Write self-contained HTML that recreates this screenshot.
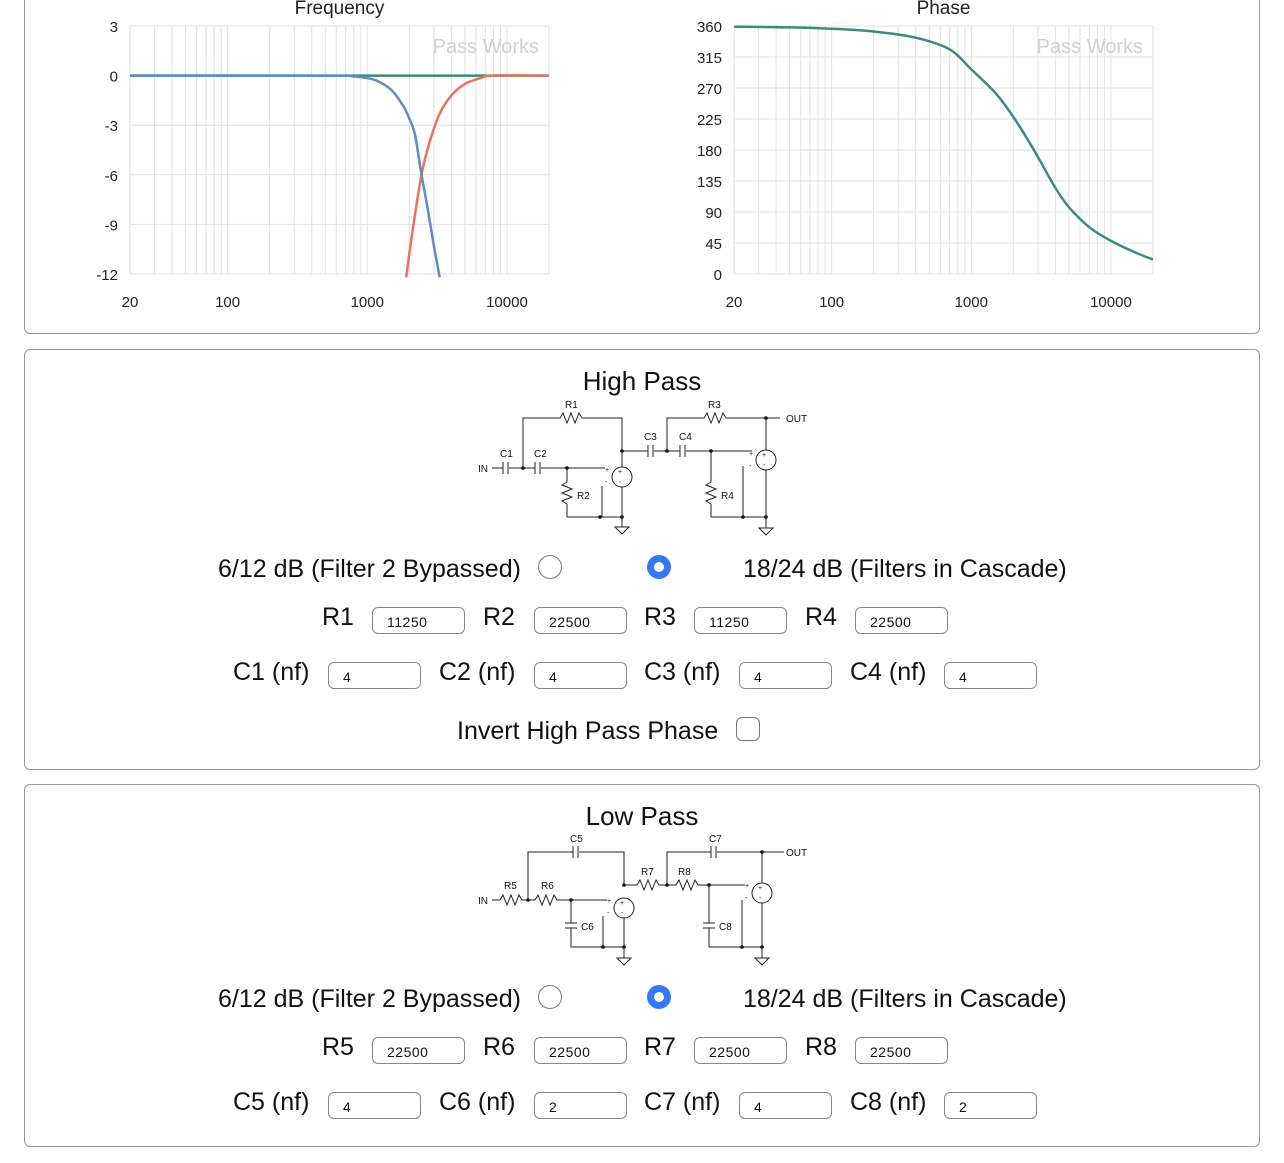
<!DOCTYPE html>
<html><head><meta charset="utf-8">
<style>
body{margin:0;width:1284px;height:1163px;background:#fff;position:relative;overflow:hidden;font-family:"Liberation Sans",sans-serif;color:#111}
.panel{position:absolute;left:24px;width:1236px;border:1px solid #9a9a9a;border-radius:6px;box-sizing:border-box}
.t{position:absolute;white-space:nowrap;font-size:25px;line-height:1}
.inp{position:absolute;width:93px;height:27px;border:1px solid #888;border-radius:6px;box-sizing:border-box;font-size:14px;padding:7px 0 0 14px;line-height:1;letter-spacing:0.5px}
.radio{position:absolute;width:24px;height:24px;border-radius:50%;box-sizing:border-box}
.off{border:1.5px solid #777;background:#fff}
.on{background:#3478f6}
.on::after{content:"";position:absolute;left:7px;top:7px;width:10px;height:10px;border-radius:50%;background:#fff}
h2{position:absolute;margin:0;font-weight:normal;font-size:26px;left:0;width:1284px;text-align:center}
</style></head><body>

<div class="panel" style="top:-10px;height:344px"></div>
<svg id="charts" width="1284" height="330" style="position:absolute;left:0;top:0" font-family="Liberation Sans, sans-serif"></svg>

<div class="panel" style="top:349px;height:421px"></div>
<h2 style="top:366px">High Pass</h2>
<svg width="1284" height="1163" style="position:absolute;left:0;top:0" fill="none" stroke="#222" stroke-width="1" font-family="Liberation Sans Narrow, Liberation Sans, sans-serif" font-size="10">
 <g>
 <text x="478" y="472" fill="#111" stroke="none">IN</text>
 <path d="M492 468H503M509 468H535M541 468H605"/>
 <path d="M503 462V474M508 462V474M535 462V474M540 462V474"/>
 <path d="M523 468V418H560l3-5 4 10 4-10 4 10 4-10 3 5H622V467"/>
 <path d="M622 451H648M654 451H680M686 451H752"/>
 <path d="M648 445V457M653 445V457M680 445V457M685 445V457"/>
 <path d="M667 451V418H704l3-5 4 10 4-10 4 10 4-10 3 5H766V450M766 418H780"/>
 <path d="M567 468V482l-5 3 10 4-10 4 10 4-10 4 5 3V517H622M602 486V517"/>
 <path d="M711 451V482l-5 3 10 4-10 4 10 4-10 4 5 3V517H766M743 466V517"/>
 <circle cx="622" cy="477" r="10"/><circle cx="766" cy="460" r="10"/>
 <path d="M622 487V527M615 527H629L622 534Z M766 470V528M759 528H773L766 535Z"/>
 <g fill="#111" stroke="none">
 <circle cx="523" cy="468" r="1.8"/><circle cx="567" cy="468" r="1.8"/><circle cx="622" cy="451" r="1.8"/><circle cx="667" cy="451" r="1.8"/><circle cx="711" cy="451" r="1.8"/><circle cx="766" cy="418" r="1.8"/><circle cx="600" cy="517" r="1.8"/><circle cx="622" cy="517" r="1.8"/><circle cx="743" cy="517" r="1.8"/><circle cx="766" cy="517" r="1.8"/>
 <text x="565" y="408">R1</text><text x="708" y="408">R3</text><text x="786" y="422">OUT</text>
 <text x="500" y="457">C1</text><text x="534" y="457">C2</text><text x="644" y="440">C3</text><text x="679" y="440">C4</text>
 <text x="577" y="499">R2</text><text x="721" y="499">R4</text>
 <text x="618" y="474" font-size="7">+</text><text x="619" y="484" font-size="7">-</text>
 <text x="762" y="457" font-size="7">+</text><text x="763" y="467" font-size="7">-</text>
 <text x="605" y="472" font-size="7">+</text><text x="605" y="484" font-size="7">-</text>
 <text x="749" y="456" font-size="7">+</text><text x="749" y="468" font-size="7">-</text>
 </g></g>
 <g>
 <text x="478" y="904" fill="#111" stroke="none">IN</text>
 <path d="M492 900H500l3-5 4 10 4-10 4 10 4-10 3 5H535l3-5 4 10 4-10 4 10 4-10 3 5H607"/>
 <path d="M528 900V852H573M579 852H624V885H637l3-5 4 10 4-10 4 10 4-10 3 5H676l3-5 4 10 4-10 4 10 4-10 3 5H745"/>
 <path d="M573 846V858M578 846V858"/>
 <path d="M667 885V852H711M717 852H762V883M762 852H784M711 846V858M716 846V858"/>
 <path d="M571 900V923M565 923H577M565 928H577M571 928V947H624M603 916V947"/>
 <path d="M709 885V923M703 923H715M703 928H715M709 928V947H762M742 900V947"/>
 <circle cx="624" cy="908" r="10"/><circle cx="762" cy="893" r="10"/>
 <path d="M624 918V958M617 958H631L624 965Z M762 903V958M755 958H769L762 965Z"/>
 <g fill="#111" stroke="none">
 <circle cx="528" cy="900" r="1.8"/><circle cx="571" cy="900" r="1.8"/><circle cx="624" cy="885" r="1.8"/><circle cx="667" cy="885" r="1.8"/><circle cx="709" cy="885" r="1.8"/><circle cx="762" cy="852" r="1.8"/><circle cx="603" cy="947" r="1.8"/><circle cx="624" cy="947" r="1.8"/><circle cx="742" cy="947" r="1.8"/><circle cx="762" cy="947" r="1.8"/>
 <text x="570" y="842">C5</text><text x="709" y="842">C7</text><text x="786" y="856">OUT</text>
 <text x="504" y="889">R5</text><text x="541" y="889">R6</text><text x="641" y="875">R7</text><text x="678" y="875">R8</text>
 <text x="581" y="930">C6</text><text x="719" y="930">C8</text>
 <text x="620" y="905" font-size="7">+</text><text x="621" y="915" font-size="7">-</text>
 <text x="758" y="890" font-size="7">+</text><text x="759" y="900" font-size="7">-</text>
 <text x="607" y="903" font-size="7">+</text><text x="607" y="915" font-size="7">-</text>
 <text x="745" y="888" font-size="7">+</text><text x="745" y="900" font-size="7">-</text>
 </g></g>
</svg>

<div class="t" style="left:218px;top:557px">6/12 dB (Filter 2 Bypassed)</div>
<div class="radio off" style="left:538px;top:555px"></div>
<div class="radio on" style="left:647px;top:555px"></div>
<div class="t" style="left:743px;top:557px">18/24 dB (Filters in Cascade)</div>

<div class="t" style="left:322px;top:605px">R1</div>
<div class="inp" style="left:372px;top:607px">11250</div>
<div class="t" style="left:483px;top:605px">R2</div>
<div class="inp" style="left:534px;top:607px">22500</div>
<div class="t" style="left:644px;top:605px">R3</div>
<div class="inp" style="left:694px;top:607px">11250</div>
<div class="t" style="left:805px;top:605px">R4</div>
<div class="inp" style="left:855px;top:607px">22500</div>

<div class="t" style="left:233px;top:660px">C1 (nf)</div>
<div class="inp" style="left:328px;top:662px">4</div>
<div class="t" style="left:439px;top:660px">C2 (nf)</div>
<div class="inp" style="left:534px;top:662px">4</div>
<div class="t" style="left:644px;top:660px">C3 (nf)</div>
<div class="inp" style="left:739px;top:662px">4</div>
<div class="t" style="left:850px;top:660px">C4 (nf)</div>
<div class="inp" style="left:944px;top:662px">4</div>

<div class="t" style="left:457px;top:719px">Invert High Pass Phase</div>
<div style="position:absolute;left:736px;top:717px;width:24px;height:24px;border:1.5px solid #777;border-radius:6px;box-sizing:border-box"></div>

<div class="panel" style="top:784px;height:363px"></div>
<h2 style="top:801px">Low Pass</h2>

<div class="t" style="left:218px;top:987px">6/12 dB (Filter 2 Bypassed)</div>
<div class="radio off" style="left:538px;top:985px"></div>
<div class="radio on" style="left:647px;top:985px"></div>
<div class="t" style="left:743px;top:987px">18/24 dB (Filters in Cascade)</div>

<div class="t" style="left:322px;top:1035px">R5</div>
<div class="inp" style="left:372px;top:1037px">22500</div>
<div class="t" style="left:483px;top:1035px">R6</div>
<div class="inp" style="left:534px;top:1037px">22500</div>
<div class="t" style="left:644px;top:1035px">R7</div>
<div class="inp" style="left:694px;top:1037px">22500</div>
<div class="t" style="left:805px;top:1035px">R8</div>
<div class="inp" style="left:855px;top:1037px">22500</div>

<div class="t" style="left:233px;top:1090px">C5 (nf)</div>
<div class="inp" style="left:328px;top:1092px">4</div>
<div class="t" style="left:439px;top:1090px">C6 (nf)</div>
<div class="inp" style="left:534px;top:1092px">2</div>
<div class="t" style="left:644px;top:1090px">C7 (nf)</div>
<div class="inp" style="left:739px;top:1092px">4</div>
<div class="t" style="left:850px;top:1090px">C8 (nf)</div>
<div class="inp" style="left:944px;top:1092px">2</div>

<script>
const xTickLabels = [20, 100, 1000, 10000];
const dbTicks = [3, 0, -3, -6, -9, -12];
const phaseTicks = [360, 315, 270, 225, 180, 135, 90, 45, 0];
const sumFreq = [20, 20000];
const sumDb = [0, 0];
const lowFreq = [20, 500, 800, 1000, 1200, 1500, 1800, 2000, 2200, 2445, 2700, 3000, 3300];
const lowDb = [0, 0, -0.05, -0.15, -0.35, -0.9, -1.8, -2.6, -3.6, -6, -8, -10.3, -12.2];
const highFreq = [1900, 2100, 2445, 2800, 3300, 4000, 5000, 6500, 8000, 20000];
const highDb = [-12.2, -9.5, -6, -4, -2.3, -1.2, -0.5, -0.15, 0, 0];
const phaseFreq = [20, 50, 100, 200, 400, 700, 1000, 1500, 2000, 2500, 3000, 4000, 5000, 7000, 10000, 15000, 20000];
const phaseDeg = [359, 358, 356, 352, 343, 326, 297, 262, 228, 197, 170, 125, 97, 68, 48, 31, 21];

const NS = 'http://www.w3.org/2000/svg';
const svg = document.getElementById('charts');
function el(tag, attrs, parent) {
  const e = document.createElementNS(NS, tag);
  for (const k in attrs) e.setAttribute(k, attrs[k]);
  (parent || svg).appendChild(e);
  return e;
}
function makeChart(left, title, yMin, yMax, yTicks, titleName) {
  const x0 = left, x1 = left + 419, yT = 26, yB = 274;
  const xs = f => x0 + (Math.log10(f) - Math.log10(20)) / 3 * (x1 - x0);
  const ys = v => yB - (v - yMin) / (yMax - yMin) * (yB - yT);
  const g = el('g', {});
  
  
  for (let d = 1; d <= 1000; d *= 10) for (let m = 1; m <= 9; m++) {
    const f = d * m * 10;
    if (f < 20 || f > 20000) continue;
    const gl = el('line', {x1: xs(f), x2: xs(f), y1: yT, y2: yB, stroke: '#e2e2e2', 'stroke-width': 1}, g);
    
    
  }
  yTicks.forEach(v => {
    const gl = el('line', {x1: x0, x2: x1, y1: ys(v), y2: ys(v), stroke: '#e2e2e2'}, g);
    
    
    const t = el('text', {x: x0 - 12, y: ys(v) + 6, 'text-anchor': 'end', 'font-size': 15, fill: '#222'}, g);
    t.textContent = v;
    
    
  });
  xTickLabels.forEach(f => {
    const t = el('text', {x: xs(f), y: 307, 'text-anchor': 'middle', 'font-size': 15, fill: '#222'}, g);
    t.textContent = f;
    
    
  });
  const tt = el('text', {x: (x0 + x1) / 2, y: 14, 'text-anchor': 'middle', 'font-size': 19, fill: '#222'}, g);
  tt.textContent = title;
  
  
  const wm = el('text', {x: x1 - 10, y: 53, 'text-anchor': 'end', 'font-size': 20, fill: '#d0d0d0'}, g);
  wm.textContent = 'Pass Works';
  
  
  return {g, xs, ys};
}
function series(ch, fr, vals, color, name) {
  const pts = fr.map((f, i) => [ch.xs(f), ch.ys(vals[i])]);
  let d = 'M' + pts[0][0].toFixed(1) + ' ' + pts[0][1].toFixed(1);
  for (let i = 0; i < pts.length - 1; i++) {
    const p0 = pts[Math.max(0, i - 1)], p1 = pts[i], p2 = pts[i + 1], p3 = pts[Math.min(pts.length - 1, i + 2)];
    const c1 = [p1[0] + (p2[0] - p0[0]) / 6, p1[1] + (p2[1] - p0[1]) / 6];
    const c2 = [p2[0] - (p3[0] - p1[0]) / 6, p2[1] - (p3[1] - p1[1]) / 6];
    d += 'C' + c1.map(v => v.toFixed(1)).join(' ') + ' ' + c2.map(v => v.toFixed(1)).join(' ') + ' ' + p2[0].toFixed(1) + ' ' + p2[1].toFixed(1);
  }
  const p = el('path', {d, fill: 'none', stroke: color, 'stroke-width': 2.5, 'stroke-linejoin': 'round'}, ch.g);
  
  
}
const fc = makeChart(130, 'Frequency', -12, 3, dbTicks, 'frequency');
series(fc, sumFreq, sumDb, '#3a8a78', 'sum-line');
series(fc, highFreq, highDb, '#e8735a', 'high-pass-line');
series(fc, lowFreq, lowDb, '#5b8fc4', 'low-pass-line');
const pc = makeChart(734, 'Phase', 0, 360, phaseTicks, 'phase');
series(pc, phaseFreq, phaseDeg, '#3c8a86', 'phase-line');
</script>
</body></html>
